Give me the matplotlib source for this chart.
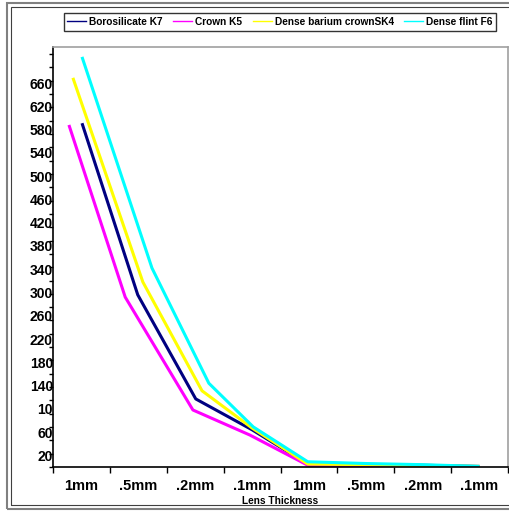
import numpy as np
import matplotlib
matplotlib.use("Agg")
import matplotlib.pyplot as plt
from matplotlib.lines import Line2D
from matplotlib.patches import Rectangle

plt.rcParams['font.family'] = ['Liberation Sans', 'DejaVu Sans']
plt.rcParams['font.weight'] = 'bold'

categories = ["1mm", ".5mm", ".2mm", ".1mm", "1mm", ".5mm", ".2mm", ".1mm"]

# x positions are category indexes (each series sits slightly off-centre)
boro_x = [0.01, 0.99, 2.01, 3.0, 3.98, 5.0, 6.0, 7.0]
boro_y = [591, 296, 117, 64, 5, 4, 3, 1]

crown_x = [-0.22, 0.77, 1.96, 2.96, 3.98, 5.0, 6.0, 7.0]
crown_y = [588, 292, 98, 55, 3, 2, 1, 0.5]

sk4_x = [-0.15, 1.08, 2.12, 3.0, 3.98, 5.0, 6.0, 7.0]
sk4_y = [669, 318, 131, 67, 5, 4, 2, 1]

f6_x = [0.01, 1.24, 2.24, 3.02, 3.98, 5.0, 6.0, 7.0]
f6_y = [705, 342, 144, 69, 9, 6, 4, 1]

series_names = ["Borosilicate K7", "Crown K5", "Dense barium crownSK4", "Dense flint F6"]
series_colors = ["#000080", "#ff00ff", "#ffff00", "#00ffff"]

ytick_vals = [20, 60, 100, 140, 180, 220, 260, 300, 340, 380, 420, 460, 500, 540, 580, 620, 660]
ytick_text = ["20", "60", "10", "140", "180", "220", "260", "300", "340", "380",
              "420", "460", "500", "540", "580", "620", "660"]

W, H = 510, 515
fig = plt.figure(figsize=(W / 100, H / 100), dpi=100)
ax = fig.add_axes([53 / W, 1 - 467 / H, 455 / W, 420 / H])

xs = [boro_x, crown_x, sk4_x, f6_x]
ys = [boro_y, crown_y, sk4_y, f6_y]
for x, y, c in zip(xs, ys, series_colors):
    ax.plot(x, y, color=c, lw=2.2, solid_capstyle='butt')

ax.set_xlim(-0.5, 7.5)
ax.set_ylim(0, 722)

# category labels in the middle, tick marks on the boundaries
ax.set_xticks(range(len(categories)))
ax.set_xticklabels(categories, fontsize=10.5, fontweight='bold')
ax.set_xticks(np.arange(-0.5, 8, 1), minor=True)
ax.tick_params(axis='x', which='major', length=0, pad=9)
ax.tick_params(axis='x', which='minor', length=4, width=1, direction='out')

ax.set_yticks(ytick_vals)
ax.set_yticklabels(ytick_text, fontsize=10, fontweight='bold')
ax.set_yticks(np.arange(0, 722, 22.9), minor=True)
ax.tick_params(axis='y', which='major', length=0, pad=0)
ax.tick_params(axis='y', which='minor', length=3, width=1, direction='out')

ax.set_xlabel("Lens Thickness", fontsize=7.3, fontweight='bold', labelpad=2)

for s in ['left', 'bottom']:
    ax.spines[s].set_color('black')
    ax.spines[s].set_linewidth(1.2)
for s in ['top', 'right']:
    ax.spines[s].set_color('#a0a0a0')
    ax.spines[s].set_linewidth(1.2)

handles = [Line2D([], [], color=c, lw=1) for c in series_colors]
leg = fig.legend(handles, series_names, loc='center', ncol=4,
                 bbox_to_anchor=(280 / W, 1 - 22 / H),
                 prop={'size': 7.3, 'weight': 'bold'},
                 handlelength=1.9, handletextpad=0.3, columnspacing=1.0,
                 borderpad=0.35, fancybox=False, frameon=True)
leg.get_frame().set_edgecolor('black')
leg.get_frame().set_linewidth(1.0)

# chart frame
fig.patches.append(Rectangle((7 / W, 1 - 509 / H), 510 / W, 506 / H, transform=fig.transFigure,
                             fill=False, edgecolor='#808080', lw=1.5))
fig.patches.append(Rectangle((11 / W, 1 - 505 / H), 510 / W, 498 / H, transform=fig.transFigure,
                             fill=False, edgecolor='#404040', lw=0.8))

fig.savefig("out.png", dpi=100)
